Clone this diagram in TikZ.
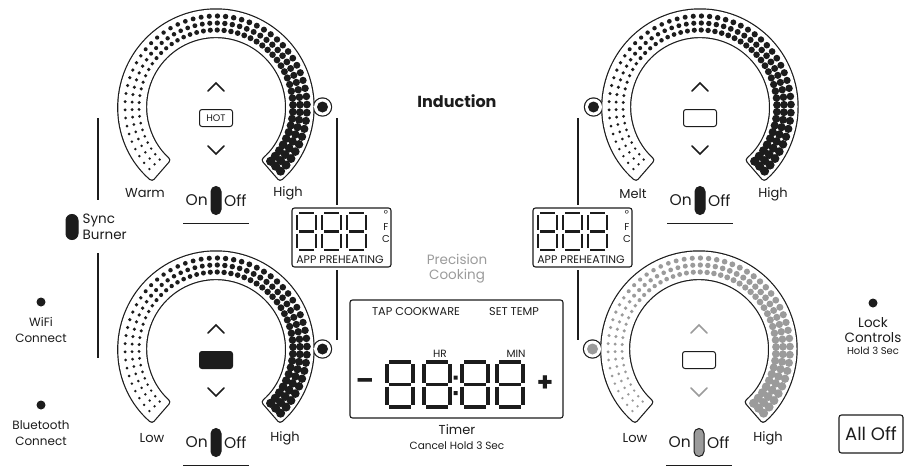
\documentclass[tikz,border=0pt]{standalone}
\usepackage{fontspec}
\setmainfont{Poppins}
\usetikzlibrary{positioning,calc}

\definecolor{ink}{HTML}{1C1C1C}
\definecolor{greyed}{HTML}{9B9B9B}

\tikzset{
  rim/.style={line width=2.4pt, draw=ink, rounded corners=2.5pt},
  chev/.style={line width=1.7pt, line cap=round, line join=miter},
  dispbox/.style={draw=ink, line width=1.1pt, rounded corners=2.5pt, inner sep=0pt},
  pill/.style={draw=ink, line width=1pt, rounded corners=5pt, minimum width=10pt, minimum height=28pt, inner sep=0pt},
  seg/.style={line width=#1, draw=ink},
  dot/.style={circle, fill=ink, minimum size=9pt, inner sep=0pt},
  txt/.style 2 args={font=\fontsize{#1}{#2}\selectfont, text=ink, inner sep=0pt},
  divider/.style={line width=1.3pt, draw=ink}
}

\newcommand\bandshape{(229:97.5) arc[start angle=229, end angle=-49, radius=97.5] -- (-49:70) arc[start angle=-49, end angle=229, radius=70] -- cycle}

\newcommand\hobdial[6]{%
  \begin{scope}[shift={(#1)}]
    \draw[rim] \bandshape;
    \draw[rim] (#2:106.5) circle[radius=8.5];
    \fill[white, rounded corners=2.5pt] \bandshape;
    \fill[white] (#2:106.5) circle[radius=8.5];
    \foreach \i in {0,...,52}{
      \pgfmathsetmacro\ang{223-5.15*\i}
      \pgfmathsetmacro\sz{1.3+3.3*(\i/52)^1.3}
      \foreach \rr in {77,84,91}
        \fill[#3] (\ang:\rr) circle[radius=\sz];
    }
    \fill[#3] (#2:106.5) circle[radius=5.5];
    \draw[chev, #3] (-8,16) -- (0,24) -- (8,16);
    \draw[chev, #3] (-8,-39) -- (0,-47) -- (8,-39);
    \node[dispbox, line width=1pt, fill=#4, minimum width=33pt, minimum height=17pt, txt={9.5}{9.5}] (#6box) at (0,-11) {#5};
    \node[pill, fill=#3] (#6pill) at (0,-93.5) {};
    \node[txt={15.5}{15.5}, left=2.5pt of #6pill] (#6on) {On};
    \node[txt={15.5}{15.5}, right=2.5pt of #6pill] (#6off) {Off};
    \draw[line width=1.3pt, ink] (-33,-116.5) -- (33,-116.5);
  \end{scope}}

\newcommand\segeight[4]{%
  \draw (#1+2,-#2) -- (#1+#3-2,-#2)
        (#1+2,-#2-#4/2) -- (#1+#3-2,-#2-#4/2)
        (#1+2,-#2-#4) -- (#1+#3-2,-#2-#4)
        (#1,-#2-2) -- (#1,-#2-#4/2+2)
        (#1,-#2-#4/2-2) -- (#1,-#2-#4+2)
        (#1+#3,-#2-2) -- (#1+#3,-#2-#4/2+2)
        (#1+#3,-#2-#4/2-2) -- (#1+#3,-#2-#4+2);}

\begin{document}
\begin{tikzpicture}[x=1pt, y=1pt]
  \useasboundingbox (0,0) rectangle (904,-466);

  \coordinate (tl) at (216,-107);
  \coordinate (tr) at (700,-107);
  \coordinate (bl) at (216,-349);
  \coordinate (br) at (699,-349);

  \hobdial{tl}{0}{ink}{white}{HOT}{tl}
  \hobdial{tr}{180}{ink}{white}{}{tr}
  \hobdial{bl}{0}{ink}{ink}{}{bl}
  \hobdial{br}{180}{greyed}{white}{}{br}

  \node[txt={13}{13}] (warm) at (145,-193) {Warm};
  \node[txt={13}{13}] (tlhigh) at (288,-193) {High};
  \node[txt={13}{13}] (melt) at (633,-194) {Melt};
  \node[txt={13}{13}] (trhigh) at (773,-194) {High};
  \node[txt={13}{13}] (bllow) at (152,-438) {Low};
  \node[txt={13}{13}] (blhigh) at (285,-438) {High};
  \node[txt={13}{13}] (brlow) at (635,-438) {Low};
  \node[txt={13}{13}] (brhigh) at (768,-438) {High};

  \node[txt={16}{16}, font=\fontsize{16}{16}\bfseries] (induction) at (457,-101) {Induction};
  \node[txt={13.5}{15}, text=greyed, align=center] (precision) at (457,-269) {Precision\\Cooking};

  \draw[divider] (337,-118) -- (337,-205) (337,-270) -- (337,-340);
  \draw[divider] (578,-118) -- (578,-205) (578,-270) -- (578,-340);
  \draw[divider] (98,-118) -- (98,-200) (98,-253) -- (98,-358);

  \node[dispbox, minimum width=99pt, minimum height=59pt] (leftlcd) at (341.5,-237.5) {};
  \begin{scope}[seg=2.8pt]
    \segeight{297}{213}{19}{37}
    \segeight{322}{213}{19}{37}
    \segeight{347}{213}{19}{37}
  \end{scope}
  \node[txt={10}{12.5}, align=center] (leftunit) at (386,-227) {°\\F\\C};
  \node[txt={11}{11}] (leftapp) at (340,-260) {APP PREHEATING};

  \node[dispbox, minimum width=99pt, minimum height=59pt] (rightlcd) at (582.5,-237.5) {};
  \begin{scope}[seg=2.8pt]
    \segeight{538}{213}{19}{37}
    \segeight{563}{213}{19}{37}
    \segeight{588}{213}{19}{37}
  \end{scope}
  \node[txt={10}{12.5}, align=center] (rightunit) at (627,-227) {°\\F\\C};
  \node[txt={11}{11}] (rightapp) at (581,-260) {APP PREHEATING};

  \node[dispbox, minimum width=213pt, minimum height=118pt] (timerlcd) at (456.5,-359) {};
  \node[txt={11.3}{12}] (tapcook) at (416,-312) {TAP COOKWARE};
  \node[txt={11.3}{12}] (settemp) at (514,-312) {SET TEMP};
  \node[txt={10.5}{11}] (hr) at (440,-354) {HR};
  \node[txt={10.5}{11}] (min) at (516,-354) {MIN};
  \begin{scope}[seg=3.3pt]
    \segeight{387}{362}{26}{45}
    \segeight{424}{362}{26}{45}
    \segeight{462}{362}{26}{45}
    \segeight{497}{362}{26}{45}
  \end{scope}
  \fill[ink] (453.5,-375.5) rectangle (457.5,-379.5) (453.5,-391) rectangle (457.5,-395);
  \node[txt={26}{26}, font=\fontsize{26}{26}\bfseries] (minus) at (365,-384) {\textendash};
  \node[txt={26}{26}, font=\fontsize{26}{26}\bfseries] (plus) at (545,-384) {+};
  \node[txt={13}{13}] (timer) at (457,-430) {Timer};
  \node[txt={10.5}{11}] (cancel) at (457,-446) {Cancel Hold 3 Sec};

  \node[pill, fill=ink, minimum width=12pt, minimum height=25pt, rounded corners=6pt] (syncbtn) at (72,-227) {};
  \node[txt={13.5}{15.5}, align=left, right=4pt of syncbtn] (sync) {Sync\\Burner};

  \node[dot] (wifi) at (41,-302) {};
  \node[txt={12}{16}, align=center] (wifitxt) at (41,-330) {WiFi\\Connect};
  \node[dot] (bt) at (41,-405) {};
  \node[txt={12}{16}, align=center] (bttxt) at (41,-433) {Bluetooth\\Connect};

  \node[dot] (lock) at (873,-303) {};
  \node[txt={13.5}{15}, align=center] (locktxt) at (873,-330) {Lock\\Controls};
  \node[txt={10}{10}] (lockhold) at (873,-351) {Hold 3 Sec};

  \node[dispbox, minimum width=64pt, minimum height=38pt, txt={18}{18}] (alloff) at (871,-434) {All Off};
\end{tikzpicture}
\end{document}
